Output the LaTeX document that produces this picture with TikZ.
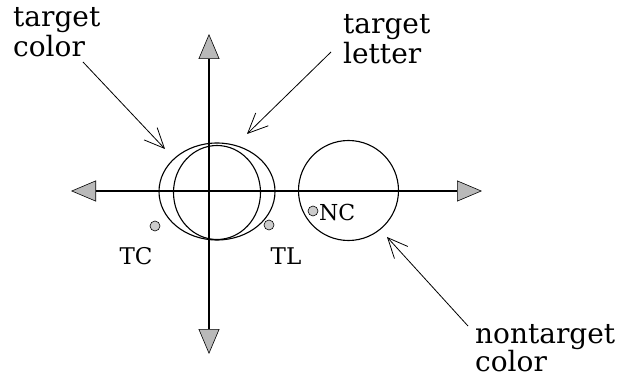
\documentclass[tikz,border=0pt]{standalone}
\usepackage{fontspec}
\setmainfont{DejaVu Serif}
\usetikzlibrary{arrows.meta}
% two stacked lines whose baseline is that of the first line
\newcommand{\stackedlines}[2]{\begin{tabular}[t]{@{}l@{}}#1\\#2\end{tabular}}
\begin{document}
\begin{tikzpicture}[x=1pt,y=-1pt,
  axishead/.tip={Triangle[length=25pt,width=21pt,fill=gray!55,line width=0.6pt]},
  axis/.style={line width=1.3pt, arrows={axishead-axishead}},
  ring/.style={line width=1.1pt},
  pointer/.style={line width=0.8pt, -{Straight Barb[length=20pt,width=18pt,line width=0.8pt]}},
  dot/.style={circle, draw, line width=0.6pt, fill=gray!40, minimum size=10pt, inner sep=0pt},
  tag/.style={font=\fontsize{23}{23}\selectfont, inner sep=0pt},
  caption/.style={inner sep=0pt, anchor=base west}]
\useasboundingbox (0,0) rectangle (619,377);

% axes
\coordinate (xl) at (71,191);
\coordinate (xr) at (482,191);
\coordinate (yt) at (209,34);
\coordinate (yb) at (209,354);
\draw[axis] (xl) -- (xr);
\draw[axis] (yt) -- (yb);

% regions
\draw[ring] (217,191.5) ellipse [x radius=58pt, y radius=48.5pt];
\draw[ring] (217,192.5) ellipse [x radius=43.5pt, y radius=47pt];
\draw[ring] (348.5,190.5) circle [radius=50pt];

% points and their labels
\node[dot] (tcdot) at (155,226) {};
\node[dot] (tldot) at (269,225) {};
\node[dot] (ncdot) at (313,211) {};
\node[tag] (tc) at (136,256) {TC};
\node[tag] (tl) at (286,256) {TL};
\node[tag, anchor=west, font=\fontsize{22}{22}\selectfont] (nc) at (319,212) {NC};

% captions
\node[caption, font=\fontsize{28}{26}\selectfont] (tcol) at (13,27) {\stackedlines{target}{color}};
\node[caption, font=\fontsize{28}{28}\selectfont] (tlet) at (343,34) {\stackedlines{target}{letter}};
\node[caption, font=\fontsize{28}{24}\selectfont] (ntcol) at (475,343) {\stackedlines{nontarget}{color}};

% pointers
\coordinate (tcfrom) at (83,62);
\coordinate (tcto) at (165,149);
\coordinate (tlfrom) at (331,52);
\coordinate (tlto) at (247,134);
\coordinate (ncfrom) at (468,326);
\coordinate (ncto) at (387,237);
\draw[pointer] (tcfrom) -- (tcto);
\draw[pointer] (tlfrom) -- (tlto);
\draw[pointer] (ncfrom) -- (ncto);
\end{tikzpicture}
\end{document}
